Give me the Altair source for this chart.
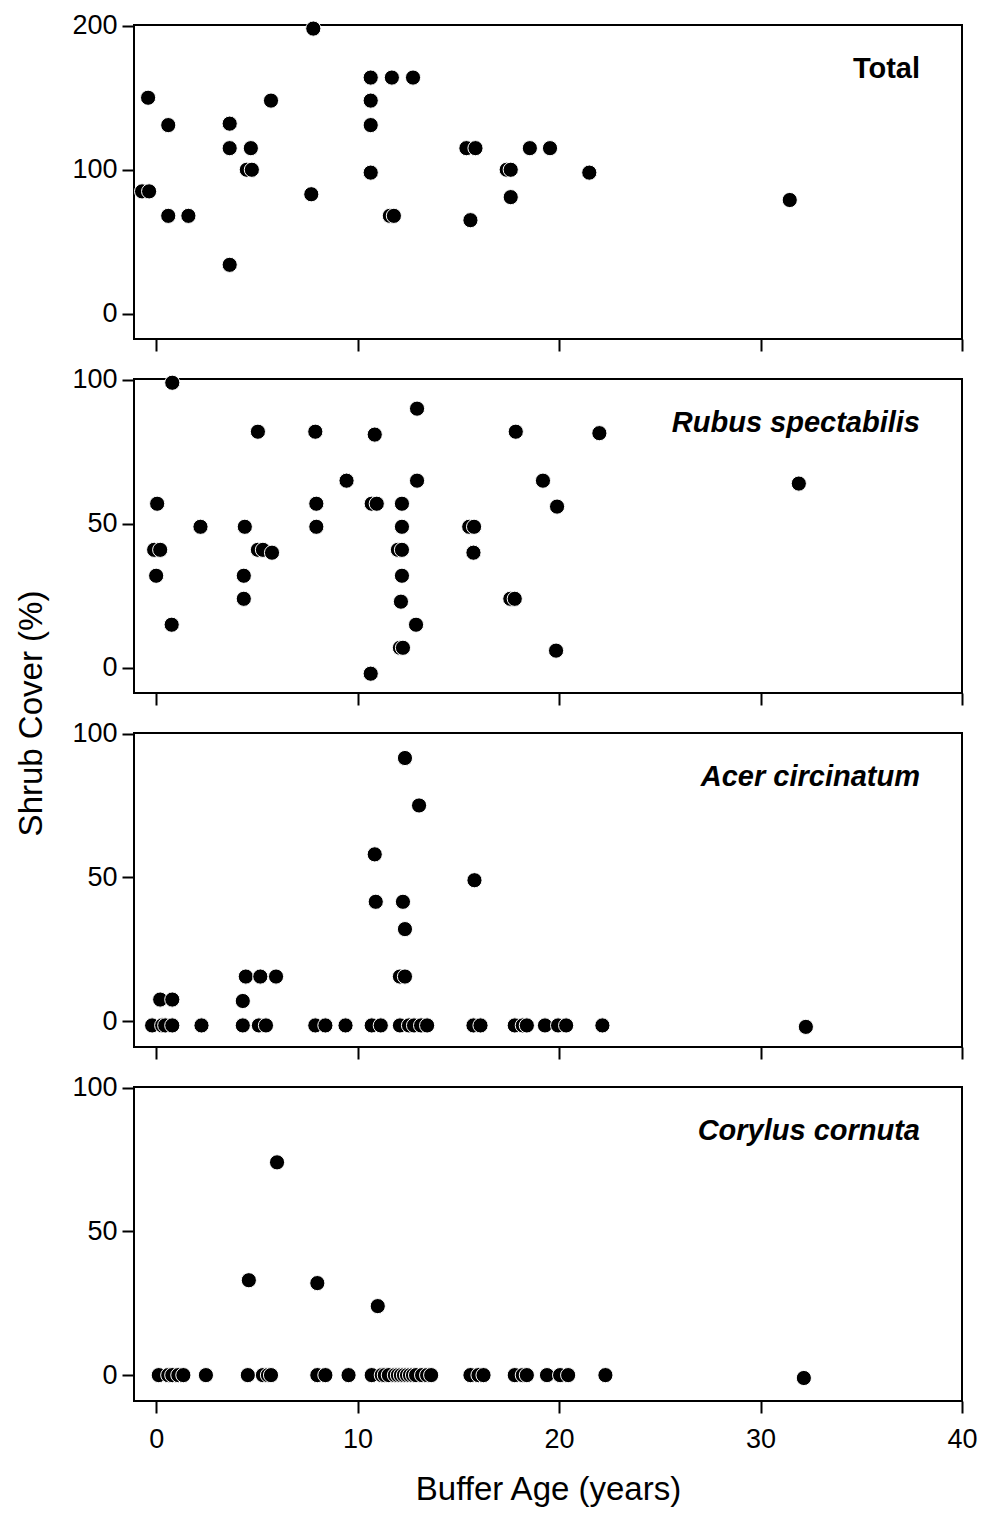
import altair as alt
import pandas as pd

# ---- data ----
total_x = [-0.4, 0.6, -0.7, -0.35, 0.6, 1.6, 3.65, 3.65, 3.65, 4.7, 4.5, 4.75, 5.7, 7.8, 7.7,
           10.65, 10.65, 10.65, 10.65, 11.7, 12.75, 11.6, 11.8, 15.4, 15.85, 15.6, 17.4, 17.6,
           17.6, 18.55, 19.55, 21.5, 31.45]
total_y = [150, 131, 85, 85, 68, 68, 132, 115, 34, 115, 100, 100, 148, 198, 83,
           164, 148, 131, 98, 164, 164, 68, 68, 115, 115, 65, 100, 100,
           81, 115, 115, 98, 79]

rubus_x = [0.8, 0.05, -0.1, 0.2, 0.0, 0.77, 2.2, 4.4, 4.35, 4.35, 5.05, 5.05, 5.3, 5.75,
           7.9, 7.95, 7.95, 9.45, 10.85, 10.7, 10.95, 10.65, 12.2, 12.2, 12.0, 12.2, 12.2,
           12.15, 12.1, 12.25, 12.9, 12.95, 12.95, 15.54, 15.78, 15.75, 17.58, 17.8, 17.85,
           22.0, 19.2, 19.9, 19.85, 31.9]
rubus_y = [99, 57, 41, 41, 32, 15, 49, 49, 32, 24, 82, 41, 41, 40,
           82, 57, 49, 65, 81, 57, 57, -2, 57, 49, 41, 41, 32,
           23, 7, 7, 15, 90, 65, 49, 49, 40, 24, 24, 82,
           81.5, 65, 56, 6, 64]

acer_x = [0.2, 0.8, 4.3, 4.45, 5.17, 5.95, 10.85, 10.9, 12.25, 12.35, 12.1, 12.35, 12.35,
          13.05, 15.8,
          -0.2, 0.3, 0.45, 0.8, 2.25, 4.3, 5.1, 5.45, 7.9, 8.4, 9.4, 10.7, 11.15, 12.1,
          12.55, 12.8, 13.15, 13.45, 15.75, 16.1, 17.8, 18.2, 18.4, 19.3, 19.95, 20.35,
          22.15, 32.25]
acer_y = [7.5, 7.5, 7, 15.5, 15.5, 15.5, 58, 41.5, 41.5, 32, 15.5, 15.5, 91.5,
          75, 49,
          -1.5, -1.5, -1.5, -1.5, -1.5, -1.5, -1.5, -1.5, -1.5, -1.5, -1.5, -1.5, -1.5, -1.5,
          -1.5, -1.5, -1.5, -1.5, -1.5, -1.5, -1.5, -1.5, -1.5, -1.5, -1.5, -1.5,
          -1.5, -2]

corylus_x = [6.0, 4.6, 8.0, 11.0,
             0.13, 0.6, 0.8, 1.1, 1.35, 2.47, 4.55, 5.3, 5.55, 5.7, 8.0, 8.4, 9.55, 10.7,
             11.2, 11.35, 11.55, 11.85, 12.0, 12.15, 12.3, 12.45, 12.6, 12.75, 12.9, 13.2,
             13.45, 13.65, 15.6, 16.0, 16.25, 17.8, 18.2, 18.4, 19.4, 20.05, 20.45, 22.3,
             32.15]
corylus_y = [74, 33, 32, 24,
             0, 0, 0, 0, 0, 0, 0, 0, 0, 0, 0, 0, 0, 0,
             0, 0, 0, 0, 0, 0, 0, 0, 0, 0, 0, 0,
             0, 0, 0, 0, 0, 0, 0, 0, 0, 0, 0, 0,
             -1]

panel_names = ["Total", "Rubus spectabilis", "Acer circinatum", "Corylus cornuta"]
x_ticks = [0, 10, 20, 30, 40]

W = 828
H = 314
FONT = "Liberation Sans"


def panel(xs, ys, name, ydomain, yticks, italic, last, ytitle=False):
    df = pd.DataFrame({"age": xs, "cover": ys})
    xaxis = alt.Axis(values=x_ticks, labels=last, title="Buffer Age (years)" if last else None,
                     grid=False, tickSize=12, tickWidth=2, tickColor="black", domain=False,
                     labelFontSize=27, labelPadding=13, titleFontSize=33, titlePadding=21,
                     labelFont=FONT, titleFont=FONT, titleFontWeight="normal",
                     labelFlush=False, labelColor="black", titleColor="black")
    yargs = dict(values=yticks, grid=False, tickSize=12, tickWidth=2, tickColor="black",
                 domain=False, labelFontSize=27, labelPadding=5, labelFont=FONT,
                 labelColor="black")
    if ytitle:
        yargs.update(title="Shrub Cover (%)", titleFontSize=33, titleFont=FONT,
                     titleFontWeight="normal", titleColor="black", titleX=-103, titleY=H + 20,
                     titleAngle=270, titleAlign="center", titleBaseline="middle")
    else:
        yargs.update(title=None)
    pts = alt.Chart(df).mark_point(filled=True, shape="circle", size=230, opacity=1,
                                   fill="black", stroke="white", strokeWidth=1,
                                   strokeOpacity=1).encode(
        x=alt.X("age:Q", scale=alt.Scale(domain=[-1.1, 40], nice=False, zero=False), axis=xaxis),
        y=alt.Y("cover:Q", scale=alt.Scale(domain=ydomain, nice=False, zero=False),
                axis=alt.Axis(**yargs)),
    )
    lab = alt.Chart(pd.DataFrame({"t": [name]})).mark_text(
        align="right", baseline="middle", fontSize=29, fontWeight="bold",
        fontStyle="italic" if italic else "normal", font=FONT, color="black"
    ).encode(text="t:N", x=alt.value(W - 42), y=alt.value(44))
    return alt.layer(pts, lab).properties(width=W, height=H)


p1 = panel(total_x, total_y, panel_names[0], [-17.5, 200.5], [0, 100, 200], False, False)
p2 = panel(rubus_x, rubus_y, panel_names[1], [-8.7, 100.3], [0, 50, 100], True, False, ytitle=True)
p3 = panel(acer_x, acer_y, panel_names[2], [-9, 100.2], [0, 50, 100], True, False)
p4 = panel(corylus_x, corylus_y, panel_names[3], [-9, 100.2], [0, 50, 100], True, True)

chart = alt.vconcat(p1, p2, p3, p4, spacing=40, bounds="flush").properties(
    padding={"left": 6, "top": 2, "right": 0, "bottom": 0},
    background="white",
).configure_view(
    stroke="black", strokeWidth=2
)

chart.save("out.html", embed_options={"renderer": "svg", "actions": False})
